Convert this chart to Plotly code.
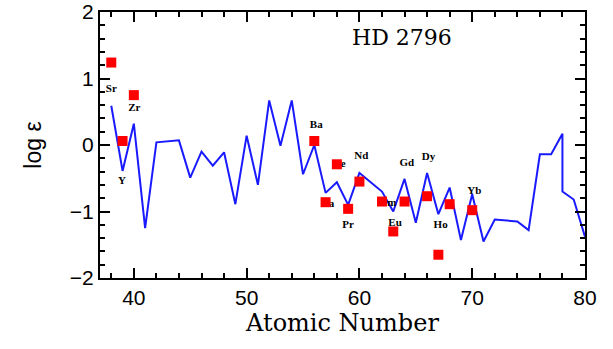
import plotly.graph_objects as go

# Scaled solar r-process curve (atomic number, log eps)
curve_z = [38, 39, 40, 41, 42, 44, 45, 46, 47, 48, 49, 50, 51, 52, 53, 54, 55, 56, 57, 58, 59, 60,
           62, 63, 64, 65, 66, 67, 68, 69, 70, 71, 72, 73, 74, 75, 76, 77, 78, 78, 79, 80]
curve_y = [0.59, -0.39, 0.32, -1.25, 0.04, 0.07, -0.49, -0.10, -0.31, -0.11, -0.89, 0.14, -0.60, 0.67,
           -0.01, 0.67, -0.44, 0.00, -0.72, -0.56, -0.90, -0.42,
           -0.70, -1.00, -0.51, -1.17, -0.42, -1.04, -0.64, -1.43, -0.74, -1.45, -1.12, -1.14, -1.15,
           -1.28, -0.14, -0.14, 0.17, -0.70, -0.82, -1.38]

# Observed abundances
obs_z = [38, 39, 40, 56, 57, 58, 59, 60, 62, 63, 64, 66, 67, 68, 70]
obs_y = [1.24, 0.06, 0.75, 0.06, -0.86, -0.29, -0.96, -0.55, -0.85, -1.30, -0.85, -0.77, -1.65, -0.89, -0.98]

# Element labels
lab_text = ["Sr", "Zr", "Y", "Ba", "La", "Ce", "Pr", "Nd", "Sm", "Eu", "Gd", "Dy", "Ho", "Yb"]
lab_x = [38.0, 40.05, 38.95, 56.17, 57.2, 58.2, 59.0, 60.17, 62.6, 63.16, 64.2, 66.13, 67.2, 70.18]
lab_y = [0.84, 0.56, -0.55, 0.30, -0.89, -0.29, -1.20, -0.165, -0.87, -1.18, -0.27, -0.18, -1.21, -0.70]

fig = go.Figure()
fig.add_trace(go.Scatter(x=curve_z, y=curve_y, mode="lines",
                         line=dict(color="#1a1aff", width=2), showlegend=False, hoverinfo="skip"))
fig.add_trace(go.Scatter(x=lab_x, y=lab_y, mode="text", text=["<b>%s</b>" % t for t in lab_text],
                         textfont=dict(family="Liberation Serif", size=11, color="black"),
                         textposition="middle center", showlegend=False, hoverinfo="skip"))
fig.add_trace(go.Scatter(x=obs_z, y=obs_y, mode="markers",
                         marker=dict(symbol="square", size=10, color="#ff0000", line=dict(width=0)),
                         showlegend=False))

fig.add_annotation(x=63.8, y=1.61, xref="x", yref="y", text="HD 2796", showarrow=False,
                   font=dict(family="DejaVu Serif", size=22, color="black"))

axis_common = dict(showgrid=False, zeroline=False, showline=True, linecolor="black", linewidth=2,
                   mirror="ticks", ticks="inside", tickcolor="black", tickwidth=1.5, ticklen=10,
                   automargin=False,
                   tickfont=dict(family="Liberation Sans", size=21, color="black"))

fig.update_xaxes(range=[37, 80], dtick=10, tick0=0,
                 minor=dict(dtick=2, ticklen=5, ticks="inside", tickcolor="black", tickwidth=1.5),
                 title=dict(text="Atomic Number", font=dict(family="DejaVu Serif", size=24, color="black"),
                            standoff=3),
                 **axis_common)
fig.update_yaxes(range=[-2, 2], dtick=1, tick0=0,
                 minor=dict(dtick=0.2, ticklen=5, ticks="inside", tickcolor="black", tickwidth=1.5),
                 title=dict(text="log ε", font=dict(family="Liberation Sans", size=23, color="black"),
                            standoff=22),
                 **axis_common)

fig.update_layout(width=613, height=349, margin=dict(l=100, r=28, t=12, b=71),
                  plot_bgcolor="white", paper_bgcolor="white")

fig.write_html("out.html")
